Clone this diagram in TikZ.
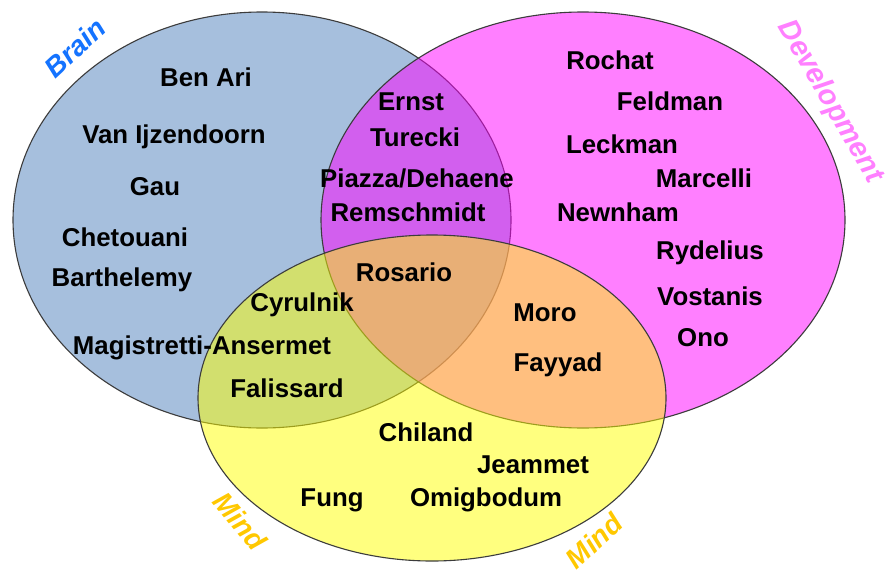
\documentclass[tikz,border=0pt]{standalone}
\usepackage{fontspec}
\setmainfont{Liberation Sans}
\definecolor{brainblue}{RGB}{79,129,189}
\definecolor{devmag}{RGB}{255,0,255}
\definecolor{mindyel}{RGB}{255,255,0}
\definecolor{edgegray}{RGB}{60,60,60}
\definecolor{brainlbl}{RGB}{20,115,255}
\definecolor{devlbl}{RGB}{255,128,255}
\definecolor{mindlbl}{RGB}{255,200,0}
\begin{document}
\begin{tikzpicture}[x=1pt,y=-1pt,
  setshape/.style={draw=edgegray,line width=1.1pt,fill opacity=0.5},
  person/.style={font=\fontsize{25.8}{30}\selectfont\bfseries,text=black,inner sep=0pt,anchor=center},
  setlabel/.style={font=\fontsize{28}{32}\selectfont\bfseries\itshape,inner sep=0pt}]
\useasboundingbox (0,0) rectangle (890,575);
\fill[white] (0,0) rectangle (890,575);
% sets
\draw[setshape,fill=brainblue] (262,220) ellipse [x radius=249pt,y radius=208pt];
\draw[setshape,fill=devmag] (583,220) ellipse [x radius=262pt,y radius=208pt];
\draw[setshape,fill=mindyel] (432,398) ellipse [x radius=234pt,y radius=163pt];
% set labels
\node[setlabel,text=brainlbl,rotate=43] (lbrain) at (75,48) {Brain};
\node[setlabel,text=devlbl,rotate=-60,font=\fontsize{29}{33}\selectfont\bfseries\itshape] (ldev) at (830,102) {Development};
\node[setlabel,text=mindlbl,rotate=-50] (lmind1) at (240,521) {Mind};
\node[setlabel,text=mindlbl,rotate=43] (lmind2) at (594,541) {Mind};
% Brain only
\node[person] (benari) at (206,77) {Ben Ari};
\node[person] (vanij) at (174,137) {Van Ijzendoorn};
\node[person] (gau) at (155,187) {Gau};
\node[person] (chet) at (125,237) {Chetouani};
\node[person] (barth) at (122,280) {Barthelemy};
% Brain & Development
\node[person] (ernst) at (411,102) {Ernst};
\node[person] (turecki) at (415,137) {Turecki};
\node[person] (piazza) at (417,178) {Piazza/Dehaene};
\node[person] (remsch) at (408,212) {Remschmidt};
% Brain & Mind
\node[person] (cyrul) at (302,305) {Cyrulnik};
\node[person] (magis) at (202,348) {Magistretti-Ansermet};
\node[person] (faliss) at (287,388) {Falissard};
% all three
\node[person] (rosario) at (404,272) {Rosario};
% Development & Mind
\node[person] (moro) at (545,313) {Moro};
\node[person] (fayyad) at (558,365) {Fayyad};
% Development only
\node[person] (rochat) at (610,60) {Rochat};
\node[person] (feldman) at (670,101) {Feldman};
\node[person] (leckman) at (622,144) {Leckman};
\node[person] (marcelli) at (704,178) {Marcelli};
\node[person] (newnham) at (618,212) {Newnham};
\node[person] (rydelius) at (710,253) {Rydelius};
\node[person] (vostanis) at (710,296) {Vostanis};
\node[person] (ono) at (703,338) {Ono};
% Mind only
\node[person] (chiland) at (426,432) {Chiland};
\node[person] (jeammet) at (533,465) {Jeammet};
\node[person] (fung) at (332,500) {Fung};
\node[person] (omig) at (486,500) {Omigbodum};
\end{tikzpicture}
\end{document}
